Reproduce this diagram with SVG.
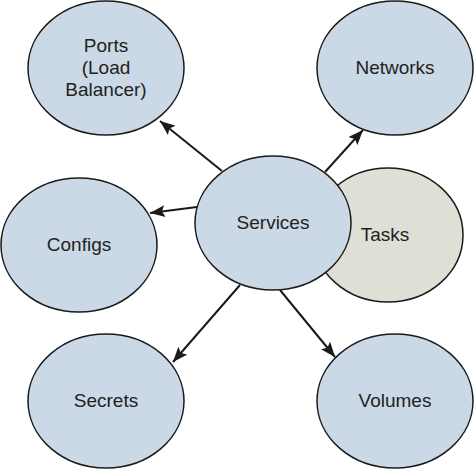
<svg xmlns="http://www.w3.org/2000/svg" width="475" height="469" viewBox="0 0 475 469">
<defs>
<marker id="arr" markerUnits="userSpaceOnUse" markerWidth="16" markerHeight="12" refX="15" refY="6" orient="auto">
<path d="M0,0 L15,6 L0,12 L3,6 z" fill="#1a1a1a"/>
</marker>
<style>
.n{fill:#cad9e5;stroke:#1a1a1a;stroke-width:1.5}
.t{fill:#dfdfd6;stroke:#1a1a1a;stroke-width:1.5}
.l{font-family:"Liberation Sans",Arial,sans-serif;font-size:19px;fill:#222;text-anchor:middle}
.c{stroke:#1a1a1a;stroke-width:2;fill:none;marker-end:url(#arr)}
</style>
</defs>
<rect width="475" height="469" fill="#fff"/>
<g id="tasks"><ellipse class="t" cx="388" cy="235" rx="75" ry="67"/><text class="l" x="385" y="241">Tasks</text></g>
<g id="ports"><ellipse class="n" cx="106" cy="68" rx="78" ry="67"/><text class="l" x="106" y="52">Ports</text><text class="l" x="106" y="74">(Load</text><text class="l" x="106" y="96">Balancer)</text></g>
<g id="networks"><ellipse class="n" cx="395" cy="68" rx="78" ry="67"/><text class="l" x="395" y="74">Networks</text></g>
<g id="configs"><ellipse class="n" cx="79" cy="245" rx="78" ry="67"/><text class="l" x="79" y="251">Configs</text></g>
<g id="services"><ellipse class="n" cx="273" cy="223" rx="78" ry="67"/><text class="l" x="273" y="229">Services</text></g>
<g id="secrets"><ellipse class="n" cx="106" cy="401" rx="78" ry="67"/><text class="l" x="106" y="407">Secrets</text></g>
<g id="volumes"><ellipse class="n" cx="395" cy="401" rx="78" ry="67"/><text class="l" x="395" y="407">Volumes</text></g>
<g id="connectors">
<line class="c" x1="222" y1="171" x2="160" y2="121"/>
<line class="c" x1="325" y1="172" x2="363" y2="130"/>
<line class="c" x1="197" y1="207" x2="150" y2="213"/>
<line class="c" x1="240" y1="285" x2="173" y2="362"/>
<line class="c" x1="280" y1="290" x2="335" y2="357"/>
</g>
</svg>
